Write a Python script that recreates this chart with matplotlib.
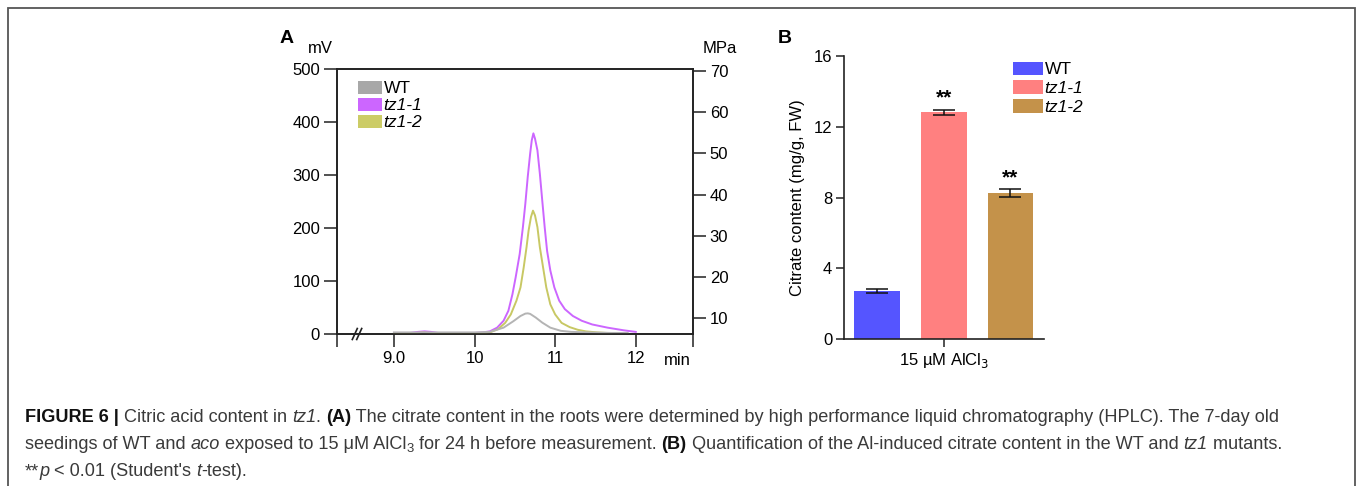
import matplotlib.pyplot as plt
from matplotlib.patches import Patch, Rectangle

plt.rcParams["font.family"] = ["Liberation Sans", "DejaVu Sans"]

# ─────────────────────────────────────────────────────────────
# Datos leídos del cromatograma (panel A)
# ─────────────────────────────────────────────────────────────
wt_t = [9.00, 9.50, 10.00, 10.19, 10.36, 10.48, 10.57, 10.63, 10.66, 10.69,
        10.76, 10.84, 10.94, 11.07, 11.20, 11.40, 11.70, 11.90]
wt_mv = [3, 3, 3, 4, 12, 24, 34, 38.5, 39, 38, 31, 21.5, 12, 6, 4, 3, 2, 2]

tz11_t = [9.00, 9.20, 9.30, 9.38, 9.46, 9.55, 9.80, 10.00, 10.10, 10.19,
          10.28, 10.36, 10.42, 10.47, 10.51, 10.56, 10.60, 10.63, 10.66,
          10.69, 10.71, 10.73, 10.75, 10.78, 10.81, 10.84, 10.87, 10.90,
          10.94, 10.99, 11.05, 11.12, 11.22, 11.33, 11.46, 11.65, 11.85, 12.00]
tz11_mv = [2, 2, 4, 5, 4, 2, 2, 2, 3, 5, 12, 25, 44, 75, 107, 151, 202, 246,
           297, 341, 366, 379, 369, 347, 303, 252, 202, 157, 120, 88, 63, 47,
           34, 25, 18, 12, 7, 4]

tz12_t = [9.00, 9.25, 9.35, 9.45, 9.60, 9.90, 10.00, 10.10, 10.19, 10.29,
          10.38, 10.45, 10.52, 10.57, 10.61, 10.645, 10.67, 10.70, 10.725,
          10.75, 10.78, 10.81, 10.85, 10.89, 10.94, 11.00, 11.08, 11.18,
          11.28, 11.38, 11.52, 11.70]
tz12_mv = [1, 1, 3, 2, 1, 0, 0, 1, 3, 9, 21, 37, 63, 88, 126, 164, 195, 221,
           233, 224, 202, 164, 126, 88, 56, 37, 21, 13, 8, 5, 3, 1.5]

ticks_min = [9, 10, 11, 12]
etiquetas_min = ["9.0", "10", "11", "12"]
ticks_mv = [0, 100, 200, 300, 400, 500]
ticks_mpa = [10, 20, 30, 40, 50, 60, 70]

# ─────────────────────────────────────────────────────────────
# Datos del contenido de citrato (panel B)
# ─────────────────────────────────────────────────────────────
genotipos = ["WT", "tz1-1", "tz1-2"]
citrato = [2.71, 12.81, 8.25]
citrato_err = [0.13, 0.16, 0.22]
signif = ["", "**", "**"]
ticks_citrato = [0, 4, 8, 12, 16]

col_a = {"WT": "#b4b4b4", "tz1-1": "#cc66ff", "tz1-2": "#c8c864"}
col_a_leg = {"WT": "#a8a8a8", "tz1-1": "#cc66ff", "tz1-2": "#cccc66"}
col_b = ["#5555ff", "#ff8080", "#c4924a"]

W, H = 1358, 486


def fx(px):
    return px / W


def fy(py):
    return 1 - py / H


fig = plt.figure(figsize=(W / 100, H / 100), dpi=100)

# marco exterior
fig.patches.append(Rectangle((fx(8), fy(560)), fx(1355) - fx(8), fy(8.5) - fy(560),
                             transform=fig.transFigure, fill=False,
                             edgecolor="#555555", linewidth=1.3))

# ─────────────────────────────────────────────────────────────
# Panel A
# ─────────────────────────────────────────────────────────────
ax = fig.add_axes([fx(336.7), fy(334), fx(693) - fx(336.7), fy(69.3) - fy(334)])
ax.plot(tz11_t, tz11_mv, color=col_a["tz1-1"], lw=1.4, zorder=3)
ax.plot(tz12_t, tz12_mv, color=col_a["tz1-2"], lw=1.4, zorder=3)
ax.plot(wt_t, wt_mv, color=col_a["WT"], lw=1.4, zorder=4)

x0, x1 = 8.29, 12.71
ax.set_xlim(x0, x1)
ax.set_ylim(0, 500)
ax.set_xticks([x0] + ticks_min + [x1])
ax.set_xticklabels([""] + etiquetas_min + [""])
ax.set_yticks(ticks_mv)
ax.tick_params(direction="out", length=9.5, width=1.1, labelsize=12,
               color="#222222", pad=2.5)
for s in ax.spines.values():
    s.set_linewidth(1.2)
    s.set_color("#222222")

ax2 = ax.twinx()
ax2.set_ylim(6.22, 70.42)
ax2.set_yticks(ticks_mpa)
ax2.tick_params(direction="out", length=9.5, width=1.1, labelsize=12,
                color="#222222", pad=2.5)
for s in ax2.spines.values():
    s.set_linewidth(1.2)
    s.set_color("#222222")

# marca de corte "//"
dx, dy = 1 / (693 - 336.7), 1 / (334 - 69.3)
for off in (-2.2, 2.2):
    xc = (357 - 336.7) * dx + off * dx
    ax.plot([xc - 2.5 * dx, xc + 2.5 * dx], [-5.5 * dy, 5.5 * dy],
            transform=ax.transAxes, color="#222222", lw=1.2, clip_on=False)

leg_a = ax.legend(
    handles=[Patch(facecolor=col_a_leg[g], edgecolor="none", label=g) for g in genotipos],
    loc="upper left", bbox_to_anchor=(0.06, 0.955), frameon=False,
    fontsize=12.5, handlelength=1.35, handleheight=0.72, handletextpad=0.12,
    labelspacing=0.1, borderpad=0, borderaxespad=0,
)
for t in leg_a.get_texts()[1:]:
    t.set_style("italic")

fig.text(fx(280), fy(43), "A", fontsize=14, fontweight="bold")
fig.text(fx(320), fy(53), "mV", fontsize=12, ha="center")
fig.text(fx(720), fy(53), "MPa", fontsize=12, ha="center")
fig.text(fx(677), fy(360.7), "min", fontsize=12, ha="center", va="center")

# ─────────────────────────────────────────────────────────────
# Panel B
# ─────────────────────────────────────────────────────────────
bx = fig.add_axes([fx(844), fy(339), fx(1044.3) - fx(844), fy(56) - fy(339)])
pos = [0, 1, 2]
bx.bar(pos, citrato, width=0.685, color=col_b, edgecolor="none", zorder=2)
bx.errorbar(pos, citrato, yerr=citrato_err, fmt="none", ecolor="#111111",
            elinewidth=1.1, capsize=8, capthick=1.1, zorder=3)
for p, v, e, s in zip(pos, citrato, citrato_err, signif):
    if s:
        bx.text(p, v + e + 0.12, s, ha="center", va="bottom", fontsize=15,
                fontweight="bold")
bx.set_xlim(-0.5, 2.51)
bx.set_ylim(0, 16)
bx.set_yticks(ticks_citrato)
bx.set_xticks([1])
bx.set_xticklabels(["15 µM AlCl$_3$"])
bx.set_ylabel("Citrate content (mg/g, FW)", fontsize=12, labelpad=6)
bx.tick_params(direction="out", length=5.5, width=1.1, labelsize=12,
               color="#222222", pad=3)
for k in ("top", "right"):
    bx.spines[k].set_visible(False)
for k in ("left", "bottom"):
    bx.spines[k].set_linewidth(1.2)
    bx.spines[k].set_color("#222222")

leg_b = bx.legend(
    handles=[Patch(facecolor=c, edgecolor="none", label=g) for g, c in zip(genotipos, col_b)],
    loc="upper left", bbox_to_anchor=(0.844, 0.98), frameon=False,
    fontsize=12.5, handlelength=1.7, handleheight=0.82, handletextpad=0.12,
    labelspacing=0.17, borderpad=0, borderaxespad=0,
)
for t in leg_b.get_texts()[1:]:
    t.set_style("italic")

fig.text(fx(778), fy(43), "B", fontsize=14, fontweight="bold")

# ─────────────────────────────────────────────────────────────
# Pie de figura (texto por tramos con estilos mezclados)
# ─────────────────────────────────────────────────────────────
gris = "#3a3a3a"
tam = 13.1
lineas = [
    [("FIGURE 6 | ", "bold"), ("Citric acid content in ", ""), ("tz1", "it"),
     (". ", ""), ("(A)", "bold"),
     (" The citrate content in the roots were determined by high performance "
      "liquid chromatography (HPLC). The 7-day old", "")],
    [("seedings of WT and ", ""), ("aco", "it"),
     (" exposed to 15 μM AlCl", ""), ("3", "sub"),
     (" for 24 h before measurement. ", ""), ("(B)", "bold"),
     (" Quantification of the Al-induced citrate content in the WT and ", ""),
     ("tz1", "it"), (" mutants.", "")],
    [("**", ""), ("p", "it"), (" < 0.01 (Student's ", ""), ("t", "it"),
     ("-test).", "")],
]
renderer = fig.canvas.get_renderer()


def _ancho(txt, **kw):
    # ancho con espacios finales incluidos (se mide con un punto de guarda)
    a = fig.text(0, 0, txt + ".", **kw)
    b = fig.text(0, 0, ".", **kw)
    w = a.get_window_extent(renderer).width - b.get_window_extent(renderer).width
    a.remove()
    b.remove()
    return w


for i, runs in enumerate(lineas):
    x = 25
    y = 422 + 27 * i
    for txt, estilo in runs:
        kw = dict(
            fontsize=tam * 0.72 if estilo == "sub" else tam,
            fontweight="bold" if estilo == "bold" else "normal",
            style="italic" if estilo == "it" else "normal",
            color="#111111" if estilo == "bold" else gris,
        )
        yy = y + 3.5 if estilo == "sub" else y
        fig.text(fx(x), fy(yy), txt, va="baseline", **kw)
        x += _ancho(txt, **kw)

fig.savefig("out.png", dpi=100)
